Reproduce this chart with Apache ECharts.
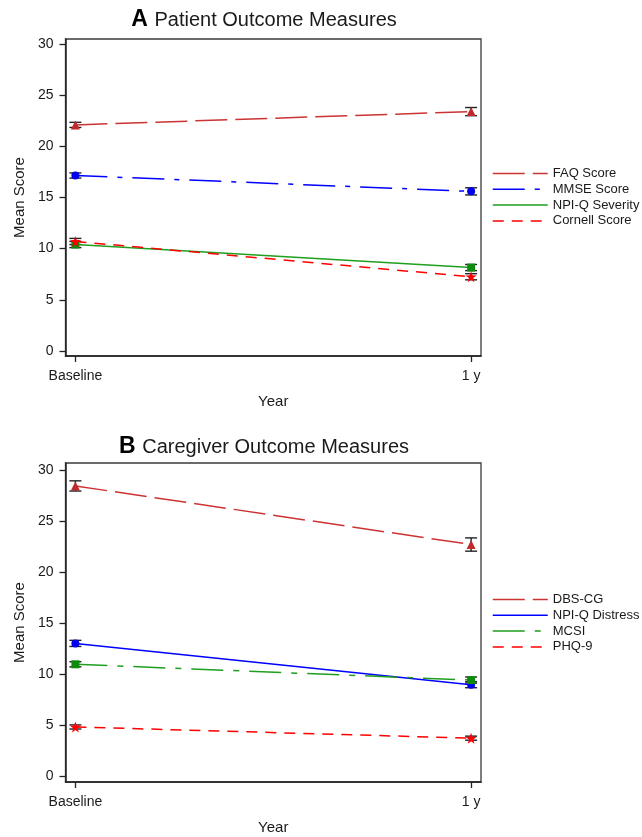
<!DOCTYPE html>
<html>
<head>
<meta charset="utf-8">
<script src="https://cdn.jsdelivr.net/npm/echarts@6/dist/echarts.min.js"></script>
<style>
html,body{margin:0;padding:0;background:#fff;}
#chart{width:642px;height:837px;}
</style>
</head>
<body>
<div id="chart"></div>
<script>
// ---------- data ----------
const categories = ['Baseline', '1 y'];
const yTicks = [0, 5, 10, 15, 20, 25, 30];

// Panel A: Patient Outcome Measures
const panelATitle = ['A', 'Patient Outcome Measures'];
const faqMean = [22.1, 23.4];
const faqErr = [0.25, 0.4];
const mmseMean = [17.15, 15.6];
const mmseErr = [0.25, 0.35];
const npiSevMean = [10.4, 8.15];
const npiSevErr = [0.3, 0.3];
const cornellMean = [10.7, 7.25];
const cornellErr = [0.3, 0.3];

// Panel B: Caregiver Outcome Measures
const panelBTitle = ['B', 'Caregiver Outcome Measures'];
const dbsMean = [28.45, 22.7];
const dbsErr = [0.5, 0.65];
const npiDisMean = [13.0, 8.95];
const npiDisErr = [0.3, 0.3];
const mcsiMean = [10.95, 9.4];
const mcsiErr = [0.25, 0.3];
const phqMean = [4.8, 3.7];
const phqErr = [0.2, 0.2];

// ---------- styling ----------
const FONT = '"Liberation Sans", Arial, Helvetica, sans-serif';
const TXT = '#1a1a1a';
const STAR = 'path://M0,-10L2.35,-3.24L9.51,-3.09L3.8,1.24L5.88,8.09L0,4L-5.88,8.09L-3.8,1.24L-9.51,-3.09L-2.35,-3.24Z';

const styles = {
  longDash: [32, 8],
  dashDot: [32, 10, 5, 10],
  solid: 'solid',
  shortDash: [11, 8]
};

const panels = [
  {
    title: panelATitle, titleY: 20, top: 39, height: 317, yMin: -0.5, yMax: 30.5, legendTop: 167,
    series: [
      { name: 'FAQ Score', mean: faqMean, err: faqErr, color: '#cc3333', mcolor: '#c02a2a', symbol: 'triangle', size: 9, dash: styles.longDash },
      { name: 'MMSE Score', mean: mmseMean, err: mmseErr, color: '#0000ff', mcolor: '#0000ee', symbol: 'circle', size: 8, dash: styles.dashDot },
      { name: 'NPI-Q Severity', mean: npiSevMean, err: npiSevErr, color: '#1f9e1f', mcolor: '#0e8a0e', symbol: 'rect', size: 8, dash: styles.solid },
      { name: 'Cornell Score', mean: cornellMean, err: cornellErr, color: '#ff0000', mcolor: '#ff0000', symbol: STAR, size: 11, dash: styles.shortDash }
    ]
  },
  {
    title: panelBTitle, titleY: 447, top: 463, height: 319, yMin: -0.6, yMax: 30.7, legendTop: 593,
    series: [
      { name: 'DBS-CG', mean: dbsMean, err: dbsErr, color: '#cc3333', mcolor: '#c02a2a', symbol: 'triangle', size: 9, dash: styles.longDash },
      { name: 'NPI-Q Distress', mean: npiDisMean, err: npiDisErr, color: '#0000ff', mcolor: '#0000ee', symbol: 'circle', size: 8, dash: styles.solid },
      { name: 'MCSI', mean: mcsiMean, err: mcsiErr, color: '#1f9e1f', mcolor: '#0e8a0e', symbol: 'rect', size: 8, dash: [32, 10, 6, 10] },
      { name: 'PHQ-9', mean: phqMean, err: phqErr, color: '#ff0000', mcolor: '#ff0000', symbol: STAR, size: 11, dash: styles.shortDash }
    ]
  }
];

const chart = echarts.init(document.getElementById('chart'), null, { renderer: 'canvas' });

const grids = [], xAxes = [], yAxes = [], series = [], legends = [], graphics = [];

panels.forEach((p, gi) => {
  grids.push({
    left: 65.5, top: p.top, width: 415.5, height: p.height,
    show: true, borderColor: '#3a3a3a', borderWidth: 1.3, backgroundColor: 'transparent',
    containLabel: false
  });
  xAxes.push({
    gridIndex: gi, type: 'value', min: -0.025, max: 1.025,
    name: 'Year', nameLocation: 'middle', nameGap: 38,
    nameTextStyle: { fontFamily: FONT, fontSize: 15, color: TXT },
    axisLine: { show: true, onZero: false, lineStyle: { color: '#222', width: 1.5 } },
    axisTick: { show: true, inside: false, length: 6, customValues: [0, 1], lineStyle: { color: '#222', width: 1.3 } },
    axisLabel: { customValues: [0, 1], margin: 13, fontFamily: FONT, fontSize: 14, color: TXT,
      formatter: v => categories[Math.round(v)] },
    splitLine: { show: false }
  });
  yAxes.push({
    gridIndex: gi, type: 'value', min: p.yMin, max: p.yMax,
    name: 'Mean Score', nameLocation: 'middle', nameGap: 38, nameRotate: 90,
    nameTextStyle: { fontFamily: FONT, fontSize: 15, color: TXT },
    axisLine: { show: true, onZero: false, lineStyle: { color: '#222', width: 1.5 } },
    axisTick: { show: true, inside: false, length: 6, customValues: yTicks, lineStyle: { color: '#222', width: 1.3 } },
    axisLabel: { customValues: yTicks, margin: 12, fontFamily: FONT, fontSize: 14, color: TXT },
    splitLine: { show: false }
  });

  // error bars
  p.series.forEach(s => {
    series.push({
      type: 'custom', xAxisIndex: gi, yAxisIndex: gi, z: 2, silent: true,
      data: s.mean.map((m, i) => [i, m - s.err[i], m + s.err[i]]),
      renderItem: (params, api) => {
        const x = api.value(0);
        const lo = api.coord([x, api.value(1)]);
        const hi = api.coord([x, api.value(2)]);
        const w = 6;
        const st = { stroke: '#222', lineWidth: 1.4 };
        return {
          type: 'group',
          children: [
            { type: 'line', shape: { x1: lo[0], y1: lo[1], x2: hi[0], y2: hi[1] }, style: st },
            { type: 'line', shape: { x1: lo[0] - w, y1: lo[1], x2: lo[0] + w, y2: lo[1] }, style: st },
            { type: 'line', shape: { x1: hi[0] - w, y1: hi[1], x2: hi[0] + w, y2: hi[1] }, style: st }
          ]
        };
      }
    });
  });

  // lines with markers
  p.series.forEach(s => {
    series.push({
      name: s.name, type: 'line', xAxisIndex: gi, yAxisIndex: gi, z: 3,
      data: s.mean.map((m, i) => [i, m]),
      symbol: s.symbol, symbolSize: s.size, showSymbol: true,
      lineStyle: { color: s.color, width: 1.5, type: s.dash },
      itemStyle: { color: s.mcolor, borderWidth: 0 },
      emphasis: { disabled: true },
      animation: false
    });
  });

  legends.push({
    orient: 'vertical', left: 492, top: p.legendTop, padding: 0,
    data: p.series.map(s => ({ name: s.name, lineStyle: { type: s.dash, width: 1.5, color: s.color } })),
    itemWidth: 55, itemHeight: 14, itemGap: 2.8,
    selectedMode: false,
    itemStyle: { opacity: 0 },
    textStyle: { fontFamily: FONT, fontSize: 13, color: TXT, padding: [0, 0, 0, 0] }
  });

  graphics.push({
    type: 'text', x: 264, y: p.titleY, z: 10,
    style: {
      text: '{a|' + p.title[0] + '}  {b|' + p.title[1] + '}',
      textAlign: 'center', textVerticalAlign: 'middle',
      rich: {
        a: { fontFamily: FONT, fontSize: 23, fontWeight: 'bold', fill: '#000' },
        b: { fontFamily: FONT, fontSize: 20, fill: TXT }
      }
    }
  });
});

chart.setOption({
  animation: false,
  backgroundColor: '#fff',
  grid: grids,
  xAxis: xAxes,
  yAxis: yAxes,
  legend: legends,
  series: series,
  graphic: graphics
});
</script>
</body>
</html>
